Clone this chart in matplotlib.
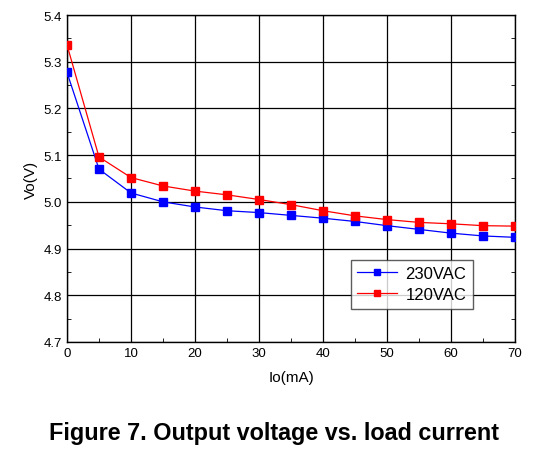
import matplotlib.pyplot as plt
from matplotlib.ticker import MultipleLocator

plt.rcParams['font.family'] = ['Liberation Sans', 'DejaVu Sans']

# load current (mA)
io = [0, 5, 10, 15, 20, 25, 30, 35, 40, 45, 50, 55, 60, 65, 70]
# output voltage (V)
vo_230 = [5.277, 5.070, 5.019, 5.000, 4.989, 4.981, 4.977, 4.971, 4.965,
          4.958, 4.949, 4.941, 4.933, 4.927, 4.924]
vo_120 = [5.336, 5.096, 5.052, 5.034, 5.023, 5.015, 5.005, 4.994, 4.981,
          4.970, 4.962, 4.956, 4.953, 4.949, 4.948]

fig = plt.figure(figsize=(5.39, 4.52), dpi=100)
ax = fig.add_axes([0.1243, 0.2412, 0.8312, 0.7234])

ax.plot(io, vo_230, color='#0000ff', lw=0.9, marker='s', ms=5.5,
        mec='#0000ff', label='230VAC', zorder=3)
ax.plot(io, vo_120, color='#ff0000', lw=0.9, marker='s', ms=5.5,
        mec='#ff0000', label='120VAC', zorder=3)

ax.set_xlim(0, 70)
ax.set_ylim(4.7, 5.4)
ax.xaxis.set_major_locator(MultipleLocator(10))
ax.xaxis.set_minor_locator(MultipleLocator(5))
ax.yaxis.set_major_locator(MultipleLocator(0.1))
ax.yaxis.set_minor_locator(MultipleLocator(0.05))
ax.grid(True, which='major', color='black', lw=0.9)
ax.tick_params(which='both', direction='in', top=False, right=True,
               labelsize=9.5, color='black')
ax.tick_params(which='major', length=0)
ax.tick_params(which='minor', length=3)
for s in ax.spines.values():
    s.set_linewidth(1.0)

ax.set_xlabel('Io(mA)', fontsize=11, labelpad=8)
ax.set_ylabel('Vo(V)', fontsize=11, labelpad=4)

leg = ax.legend(loc='lower right', bbox_to_anchor=(0.925, 0.076),
                fontsize=12, frameon=True, fancybox=False,
                handlelength=2.4, handletextpad=0.5, borderpad=0.4,
                labelspacing=0.35, markerscale=0.9)
leg.get_frame().set_edgecolor('#333333')
leg.get_frame().set_linewidth(1.0)

fig.text(0.508, 0.026, 'Figure 7. Output voltage vs. load current',
         ha='center', va='baseline', fontsize=16.8, fontweight='bold')

fig.savefig('out.png', dpi=100)
